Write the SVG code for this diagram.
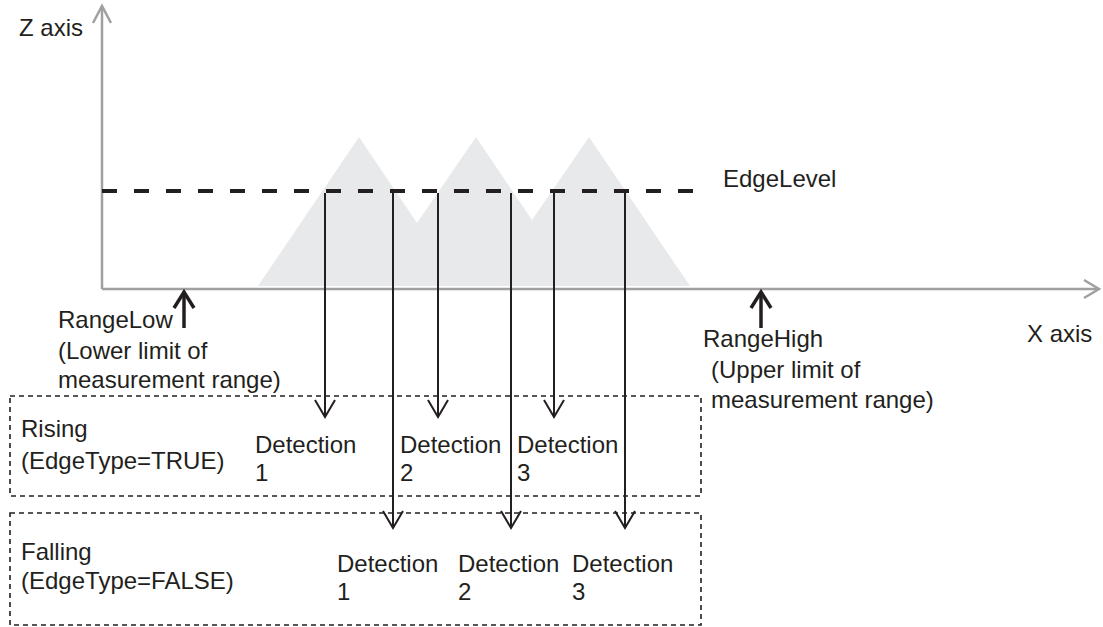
<svg xmlns="http://www.w3.org/2000/svg" width="1103" height="627" viewBox="0 0 1103 627">
<defs>
<style>
text{font-family:"Liberation Sans",Arial,sans-serif;font-size:24px;fill:#231f20}
.axis{stroke:#a0a0a3;stroke-width:2.5;fill:none}
.box{stroke:#231f20;stroke-width:1.6;fill:none;stroke-dasharray:5 4}
.det{stroke:#231f20;stroke-width:2;fill:none}
.head{stroke:#231f20;stroke-width:2;fill:none}
.range{stroke:#231f20;stroke-width:3.5;fill:none}
</style>
</defs>
<g id="profile">
<polygon points="258,286 359,137 417,223 476,137 532,220 589,137 690,286" fill="#e8e9ea"/>
</g>
<g id="axes">
<line class="axis" x1="102" y1="289" x2="102" y2="6"/>
<polyline class="axis" points="93,23 102,6 111,23"/>
<line class="axis" x1="102" y1="289" x2="1098" y2="289"/>
<polyline class="axis" points="1084,280 1099,289 1084,298"/>
<text x="19" y="36">Z axis</text>
<text x="1027" y="342">X axis</text>
</g>
<g id="edgelevel">
<line x1="102" y1="191" x2="694" y2="191" stroke="#231f20" stroke-width="4" stroke-dasharray="15 17"/>
<text x="723" y="187">EdgeLevel</text>
</g>
<g id="rangelow">
<line class="range" x1="184" y1="328" x2="184" y2="292"/>
<polyline class="range" points="174,308 184,292 194,308"/>
<text x="58" y="328">RangeLow</text>
<text x="58" y="359">(Lower limit of</text>
<text x="58" y="388">measurement range)</text>
</g>
<g id="rangehigh">
<line class="range" x1="761" y1="328" x2="761" y2="292"/>
<polyline class="range" points="751,308 761,292 771,308"/>
<text x="703" y="347">RangeHigh</text>
<text x="711" y="378">(Upper limit of</text>
<text x="711" y="408">measurement range)</text>
</g>
<g id="rising">
<rect class="box" x="10" y="396" width="691" height="100"/>
<text x="21" y="437">Rising</text>
<text x="21" y="469">(EdgeType=TRUE)</text>
<text x="255" y="453">Detection</text>
<text x="255" y="481">1</text>
<text x="400" y="453">Detection</text>
<text x="400" y="481">2</text>
<text x="517" y="453">Detection</text>
<text x="517" y="481">3</text>
</g>
<g id="falling">
<rect class="box" x="10" y="513" width="691" height="112"/>
<text x="21" y="560">Falling</text>
<text x="21" y="589">(EdgeType=FALSE)</text>
<text x="337" y="572">Detection</text>
<text x="337" y="600">1</text>
<text x="458" y="572">Detection</text>
<text x="458" y="600">2</text>
<text x="572" y="572">Detection</text>
<text x="572" y="600">3</text>
</g>
<g id="connectors">
<line class="det" x1="325" y1="193" x2="325" y2="417"/>
<polyline class="head" points="315,400 325,417 335,400"/>
<line class="det" x1="438" y1="193" x2="438" y2="417"/>
<polyline class="head" points="428,400 438,417 448,400"/>
<line class="det" x1="554" y1="193" x2="554" y2="417"/>
<polyline class="head" points="544,400 554,417 564,400"/>
<line class="det" x1="393" y1="193" x2="393" y2="528"/>
<polyline class="head" points="383,511 393,528 403,511"/>
<line class="det" x1="511" y1="193" x2="511" y2="528"/>
<polyline class="head" points="501,511 511,528 521,511"/>
<line class="det" x1="625" y1="193" x2="625" y2="528"/>
<polyline class="head" points="615,511 625,528 635,511"/>
</g>
</svg>
